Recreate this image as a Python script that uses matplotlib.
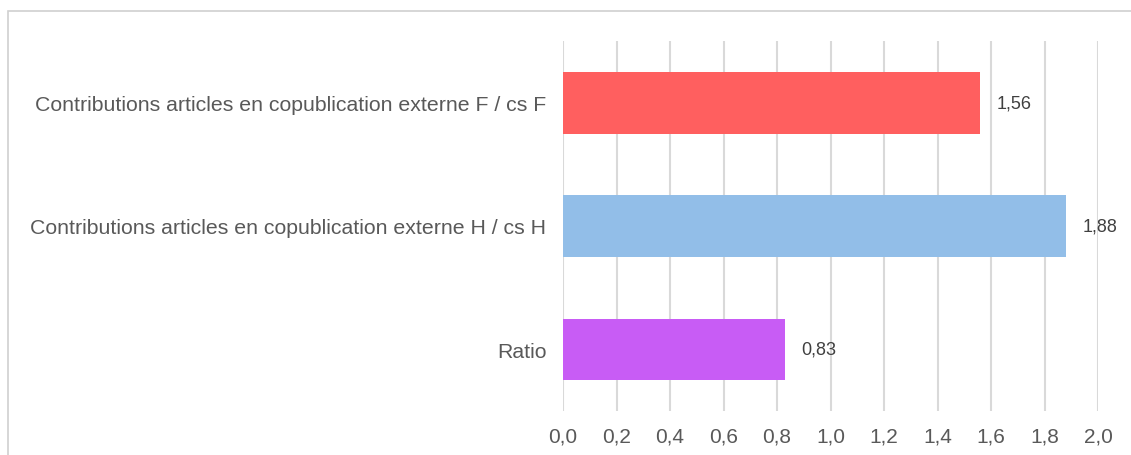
import matplotlib
matplotlib.use("Agg")
import matplotlib.pyplot as plt
from matplotlib.patches import Rectangle

categories = ["Contributions articles en copublication externe F / cs F",
              "Contributions articles en copublication externe H / cs H",
              "Ratio"]
values = [1.56, 1.88, 0.83]
colors = ["#FF5F5F", "#92BEE8", "#C85CF5"]
xticks = [0.0, 0.2, 0.4, 0.6, 0.8, 1.0, 1.2, 1.4, 1.6, 1.8, 2.0]

plt.rcParams['font.family'] = ['Liberation Sans', 'DejaVu Sans']

W, H = 1131, 456
fig = plt.figure(figsize=(W / 100, H / 100), dpi=100)
ax = fig.add_axes([563 / W, (H - 412) / H, (1098 - 563) / W, 370 / H])

ypos = list(range(len(categories)))
ax.barh(ypos, values, height=0.5, color=colors, zorder=3)
ax.set_ylim(2.5, -0.5)
ax.set_xlim(0, 2.0)
ax.set_yticks(ypos)
ax.set_yticklabels(categories, fontsize=15.3, color="#595959")
ax.set_xticks(xticks)
ax.set_xticklabels([f"{t:.1f}".replace(".", ",") for t in xticks], fontsize=15, color="#595959")
ax.tick_params(axis='y', length=0, pad=12)
ax.tick_params(axis='x', length=0, pad=11)
ax.grid(axis='x', color="#d9d9d9", linewidth=1.5, zorder=0)
for s in ax.spines.values():
    s.set_visible(False)

for y, v in zip(ypos, values):
    ax.annotate(f"{v:.2f}".replace(".", ","), (v, y), xytext=(12, 0), textcoords="offset points",
                va="center", ha="left", fontsize=13, color="#404040")

fig.patches.append(Rectangle((8 / W, -0.1), 1.2, (H - 12) / H + 0.1, transform=fig.transFigure,
                             fill=False, edgecolor="#d0d0d0", linewidth=1.2))

fig.savefig("out.png", dpi=100)
